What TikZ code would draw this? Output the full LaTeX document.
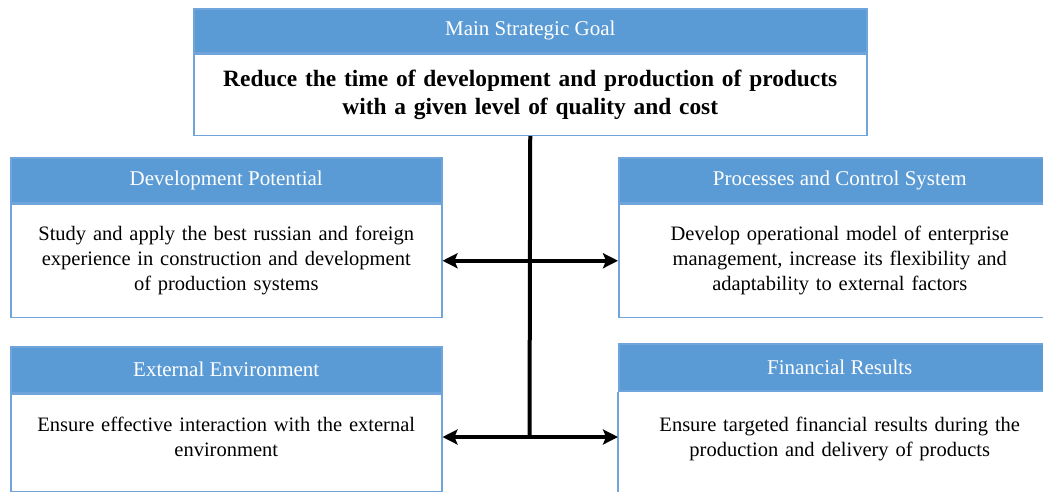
\documentclass[tikz,border=0pt]{standalone}
\usepackage{fontspec}
\setmainfont{Liberation Serif}
\usetikzlibrary{positioning,arrows.meta}
\definecolor{hdblue}{HTML}{5B9BD5}
\definecolor{rim}{HTML}{6FA5DA}

\begin{document}
\begin{tikzpicture}[x=1pt,y=-1pt,
  hd/.style={draw=rim,fill=hdblue,text=white,line width=1.5pt,inner sep=0pt,
    minimum height=45pt,font=\fontsize{21}{24}\selectfont},
  body/.style={draw=rim,line width=1.5pt,inner sep=0pt,align=center,
    font=\fontsize{20.5}{25}\selectfont},
  link/.style={line width=3.5pt,-{Stealth[length=15pt,width=15pt,inset=3pt]}}]
\useasboundingbox (0,0) rectangle (1043,491);
% goal on top
\node[hd,minimum width=673pt,minimum height=44pt,anchor=north west] (goalhd) at (193,8) {Main Strategic Goal};
\node[body,below=0pt of goalhd,text width=673pt,minimum height=81pt,font=\fontsize{23.4}{28}\selectfont\bfseries] (goal)
  {Reduce the time of development and production of products\\with a given level of quality and cost};
% left column
\node[hd,minimum width=431pt,anchor=north west] (devhd) at (10,157) {Development Potential};
\node[body,below=0pt of devhd,text width=431pt,minimum height=113pt] (dev)
  {Study and apply the best russian and foreign\\experience in construction and development\\of production systems};
\node[hd,minimum width=431pt,minimum height=46pt,anchor=north west] (exthd) at (10,346) {External Environment};
\node[body,below=0pt of exthd,text width=431pt,minimum height=97pt] (ext)
  {Ensure effective interaction with the external\\environment\\[-14pt]\mbox{}};
% right column
\node[hd,minimum width=442pt,anchor=north west] (prochd) at (618,157) {Processes and Control System};
\node[body,below=0pt of prochd,text width=442pt,minimum height=113pt] (proc)
  {Develop operational model of enterprise\\management, increase its flexibility and\\adaptability to external factors};
\node[hd,minimum width=442pt,minimum height=47pt,anchor=north west] (finhd) at (618,343) {Financial Results};
% this one runs off the page, so only its left side shows
\node[body,draw=none,below=0pt of finhd,text width=442pt,minimum height=94pt] (fin)
  {Ensure targeted financial results during the\\production and delivery of products};
\draw[rim,line width=1.5pt] (finhd.south west) -- ++(0,120);
% trunk and links
\coordinate (j1) at (goal.south |- dev.east);
\coordinate (j2) at (529.5,437);
\draw[line width=4pt] (goal.south) -- (j2);
\draw[link] (j1) -- (dev.east);
\draw[link] (j1) -- (proc.west);
\draw[link] (j2) -- (j2 -| ext.east);
\draw[link] (j2) -- (j2 -| fin.west);
\end{tikzpicture}
\end{document}
